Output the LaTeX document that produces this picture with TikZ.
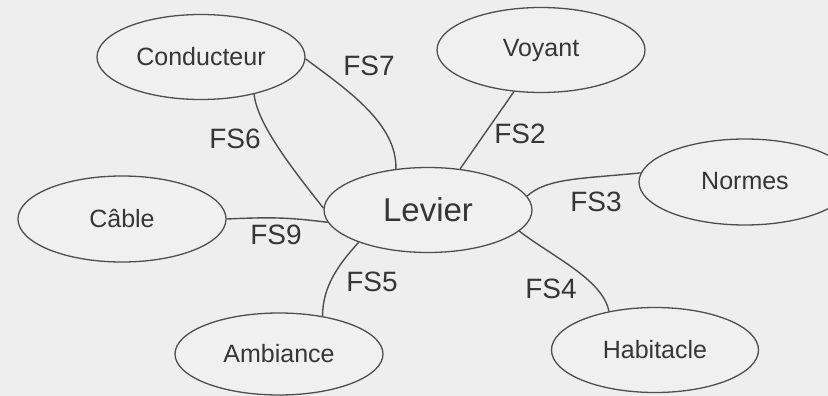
\documentclass[tikz,border=0pt]{standalone}
\usepackage{fontspec}
\setmainfont{Liberation Sans}
\usetikzlibrary{shapes.geometric}
\definecolor{bgcol}{HTML}{EEEEEE}
\definecolor{fillcol}{HTML}{F0F0F0}
\definecolor{linecol}{HTML}{4E4E4E}
\definecolor{txtcol}{HTML}{363636}
\begin{document}
\begin{tikzpicture}[x=1pt,y=-1pt,
  part/.style={ellipse, draw=linecol, fill=fillcol, line width=1.3pt, inner sep=0pt,
    minimum width=208pt, minimum height=85pt, text=txtcol,
    font=\fontsize{25}{30}\selectfont},
  centre/.style={part, font=\fontsize{33}{40}\selectfont},
  link/.style={draw=linecol, line width=1.4pt},
  fslabel/.style={text=txtcol, inner sep=0pt, font=\fontsize{28}{34}\selectfont}]
  % canvas
  \fill[bgcol] (0,0) rectangle (828,396);
  \useasboundingbox (0,0) rectangle (828,396);

  % parts of the environment
  \node[centre] (lev) at (428,210) {Levier};
  \node[part] (cond) at (201,57) {\raisebox{2pt}{Conducteur}};
  \node[part] (voy) at (541,50) {\raisebox{2pt}{Voyant}};
  \node[part, minimum width=212pt, minimum height=86pt] (norm) at (745,182) {\raisebox{2pt}{Normes}};
  \node[part, minimum height=86pt] (cab) at (122,219) {\raisebox{2pt}{Câble}};
  \node[part, minimum height=82pt] (amb) at (279,354) {\raisebox{1pt}{Ambiance}};
  \node[part, minimum width=207pt] (hab) at (655,350) {\raisebox{1pt}{Habitacle}};

  % functional links
  \draw[link] (cond.-1) .. controls +(43,32) and +(1,-45) .. (lev.128);
  \draw[link] (cond.-35) .. controls +(3,30) and +(-30,-38) .. (lev.179);
  \draw[link] (cab.east) .. controls +(45,-2) and +(-40,-5) .. (lev.187);
  \draw[link] (lev.205) .. controls +(-20,22) and +(0,-30) .. (amb.41);
  \draw[link] (voy.237) -- (lev.52);
  \draw[link] (lev.8) .. controls +(20,-18) and +(-60,6) .. (norm.175);
  \draw[link] (lev.-13) .. controls +(32,25) and +(-6,-32) .. (hab.140);

  % link labels
  \node[fslabel] (l7) at (369,66) {FS7};
  \node[fslabel] (l6) at (235,139) {FS6};
  \node[fslabel] (l9) at (276,235) {FS9};
  \node[fslabel] (l5) at (372,282) {FS5};
  \node[fslabel] (l2) at (520,134) {FS2};
  \node[fslabel] (l3) at (596,202) {FS3};
  \node[fslabel] (l4) at (551,289) {FS4};
\end{tikzpicture}
\end{document}
